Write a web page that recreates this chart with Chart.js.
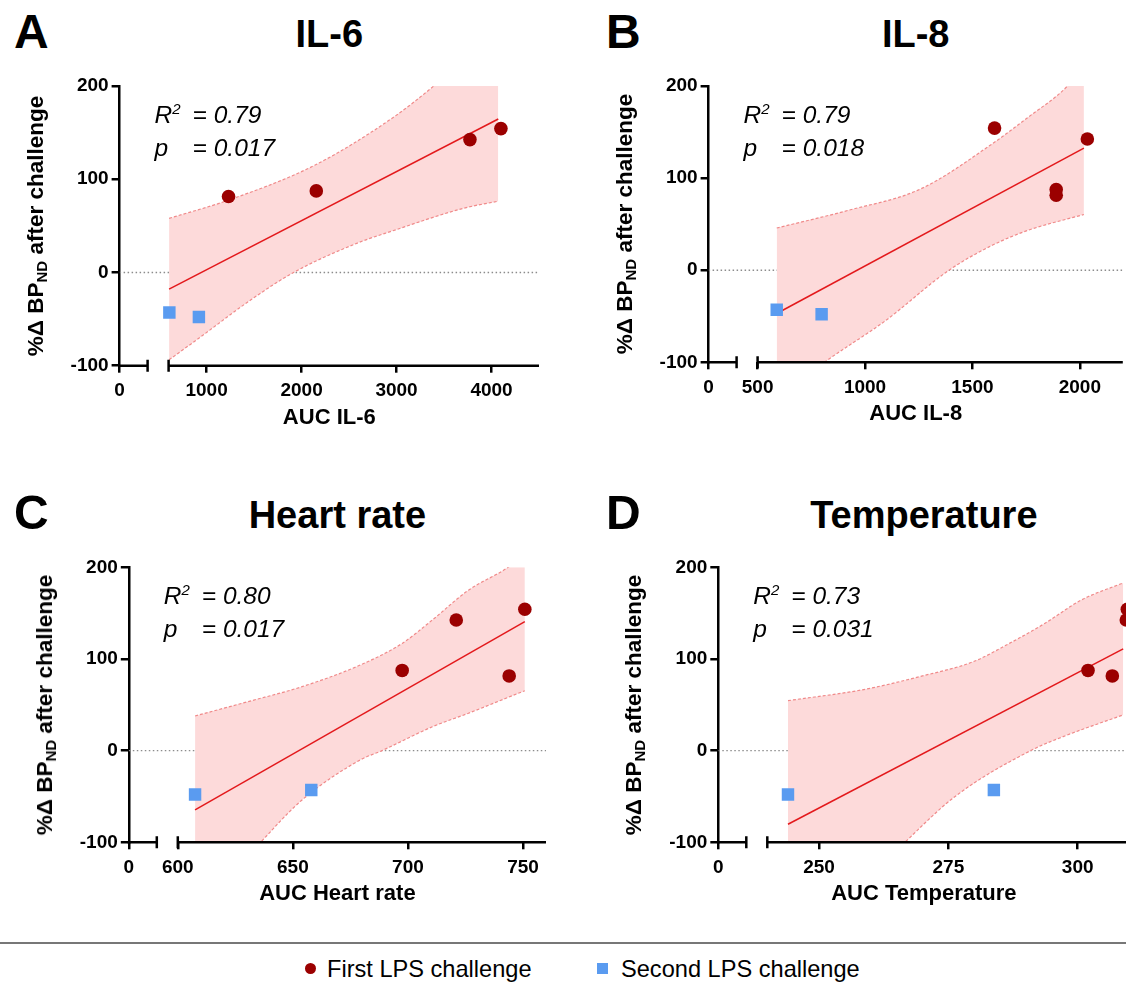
<!DOCTYPE html>
<html>
<head>
<meta charset="utf-8">
<script src="https://cdn.jsdelivr.net/npm/chart.js@4.4.1/dist/chart.umd.min.js"></script>
<style>
html,body{margin:0;padding:0;background:#fff;}
body{width:1126px;height:985px;overflow:hidden;position:relative;font-family:"Liberation Sans",Arial,sans-serif;color:#000;}
canvas{position:absolute;}
.letter{position:absolute;font-weight:bold;font-size:48px;line-height:1;}
.title{position:absolute;font-weight:bold;font-size:38px;line-height:1;transform:translateX(-50%);white-space:nowrap;}
.ytitle{position:absolute;font-weight:bold;font-size:22.5px;line-height:1;white-space:nowrap;transform:translate(-50%,-50%) rotate(-90deg);}
.ytitle sub{font-size:15px;vertical-align:-4px;}
.stats{position:absolute;font-style:italic;font-size:24.5px;line-height:33px;white-space:nowrap;}
.stats span{display:inline-block;width:38px;}
.stats sup{font-size:15px;vertical-align:9px;line-height:0;}
#rule{position:absolute;left:0;top:942px;width:1126px;height:2px;background:#777;}
.lg{position:absolute;font-size:23.6px;line-height:26px;top:956px;white-space:nowrap;}
.mk{position:absolute;width:11px;height:11px;top:963px;}
</style>
</head>
<body>

<canvas id="cA"></canvas>
<canvas id="cB"></canvas>
<canvas id="cC"></canvas>
<canvas id="cD"></canvas>

<div id="rule"></div>
<div class="mk" style="left:305px;border-radius:50%;background:#9b0000;"></div>
<div class="lg" style="left:327px;">First LPS challenge</div>
<div class="mk" style="left:597px;background:#5a9bf0;"></div>
<div class="lg" style="left:621px;">Second LPS challenge</div>

<script>
// y values (% change BPND), same subjects in every panel
const firstBP = [81.5, 87.5, 142.5, 154.3]
const secondBP = [-42.9, -47.8]

// IL-6
const il6First = [1231, 2155, 3773, 4099]
const il6Second = [608, 919]
const il6FitX = [605, 4071]
const il6FitY = [-17.8, 164.6]
const il6UpX = [605, 1243, 2138, 2961, 3393, 4071]
const il6UpY = [58, 78, 115, 166, 200, 260]
const il6LoX = [605, 943, 1467, 1916, 2587, 2961, 3711, 4071]
const il6LoY = [-93.7, -68.7, -29.3, 0, 31.5, 44.7, 69, 76.5]
const il6Ticks = [0, 1000, 2000, 3000, 4000]

// IL-8
const il8First = [1890, 1890, 2035, 1603]
const il8Second = [589, 798]
const il8FitX = [589, 2019]
const il8FitY = [-47, 132.5]
const il8UpX = [589, 922, 1257, 1591, 1759, 1943, 2019]
const il8UpY = [45.8, 65, 88, 137, 166, 200, 222]
const il8LoX = [589, 811, 1094, 1391, 1592, 1759, 2019]
const il8LoY = [-140, -100, -55, 0, 27, 43.3, 60.5]
const il8Ticks = [0, 500, 1000, 1500, 2000]

// Heart rate
const hrFirst = [744, 697.5, 721, 750.8]
const hrSecond = [658, 607.5]
const hrFitX = [607.5, 750.8]
const hrFitY = [-64.7, 140.7]
const hrUpX = [607.5, 630.6, 654, 679.4, 697.5, 710.6, 726.3, 743.5, 750.8]
const hrUpY = [37.8, 53.5, 69.8, 93.5, 117, 142.5, 175, 200, 215]
const hrLoX = [607.5, 636, 654, 679.4, 688.7, 710.6, 726.3, 750.8]
const hrLoY = [-180, -100, -53.8, -10, 0, 26, 40.8, 65.4]
const hrTicks = [0, 600, 650, 700, 750]

// Temperature
const tempFirst = [306.7, 302, 309.4, 309.6]
const tempSecond = [283.8, 244]
const tempFitX = [244, 308.8]
const tempFitY = [-80.3, 111]
const tempUpX = [244, 259, 269.4, 279.8, 286.8, 293.7, 300.7, 308.8]
const tempUpY = [54.5, 67, 80.7, 97, 117, 139, 164.3, 183]
const tempLoX = [244, 266.6, 276.3, 290.9, 297.2, 308.8]
const tempLoY = [-225, -100, -50, 0, 15.3, 39]
const tempTicks = [0, 250, 275, 300]

const panelLetters = ["A", "B", "C", "D"]
const panelTitles = ["IL-6", "IL-8", "Heart rate", "Temperature"]
const xTitles = ["AUC IL-6", "AUC IL-8", "AUC Heart rate", "AUC Temperature"]
const r2Values = ["0.79", "0.79", "0.80", "0.73"]
const pValues = ["0.017", "0.018", "0.017", "0.031"]

const FONT = "'Liberation Sans', Arial, sans-serif"
Chart.defaults.font.family = FONT

// x axis with a break: the 0 stub, a gap, then min..max
const breakGap = {}

class BrokenLinearScale extends Chart.LinearScale {
  getPixelForValue(value) {
    const b = breakGap[this.chart.canvas.id]
    if (value < this.min) return this.left + b.stubPx * Math.max(value, 0) / this.min
    const start = this.left + b.stubPx + b.gapPx
    return start + (value - this.min) / (this.max - this.min) * (this.right - start)
  }
  getValueForPixel(pixel) {
    const b = breakGap[this.chart.canvas.id]
    const start = this.left + b.stubPx + b.gapPx
    return this.min + (pixel - start) / (this.right - start) * (this.max - this.min)
  }
}
BrokenLinearScale.id = "brokenLinear"
Chart.register(BrokenLinearScale)

const brokenAxis = {
  id: "brokenAxis",
  afterDraw(chart) {
    const xs = chart.scales.x, ys = chart.scales.y
    const b = breakGap[chart.canvas.id]
    const ctx = chart.ctx
    const y0 = ys.getPixelForValue(ys.min)
    const p0 = xs.left
    const p1 = xs.left + b.stubPx
    const p2 = xs.getPixelForValue(xs.min)
    ctx.save()
    ctx.strokeStyle = "#000"
    ctx.lineWidth = 2.5
    ctx.beginPath()
    ctx.moveTo(p0 - 1.2, y0); ctx.lineTo(p1, y0)
    ctx.moveTo(p1, y0 - 6); ctx.lineTo(p1, y0 + 6)
    ctx.moveTo(p2, y0 - 6); ctx.lineTo(p2, y0 + 6)
    ctx.moveTo(p2, y0); ctx.lineTo(xs.right, y0)
    ctx.stroke()
    ctx.restore()
  }
}

function pts(xs, ys) {
  return xs.map((x, i) => ({x: x, y: ys[i]}))
}

function makePanel(p) {
  const cv = document.getElementById(p.id)
  const a = p.area
  const x0 = Math.floor(a.left) - 110, y0 = Math.floor(a.top) - 20
  const w = Math.ceil(a.right) - x0 + 25, h = Math.ceil(a.bottom) - y0 + 90
  cv.width = w; cv.height = h
  cv.style.left = x0 + "px"; cv.style.top = y0 + "px"
  cv.style.width = w + "px"; cv.style.height = h + "px"
  breakGap[p.id] = {stubPx: 28, gapPx: 21}

  const tickFont = {family: FONT, size: 19, weight: "bold"}

  new Chart(cv, {
    type: "scatter",
    data: {
      datasets: [
        {data: pts(p.first, firstBP), pointStyle: "circle", pointRadius: 6.8,
         backgroundColor: "#9b0000", borderWidth: 0},
        {data: pts(p.second, secondBP), pointStyle: "rect", pointRadius: 8.8,
         backgroundColor: "#5a9bf0", borderWidth: 0},
        {type: "line", data: pts(p.fitX, p.fitY), borderColor: "#e3191c",
         borderWidth: 1.5, pointRadius: 0, fill: false, clip: 0},
        {type: "line", data: pts(p.loX, p.loY), borderColor: "#f08a8a",
         borderWidth: 1.2, borderDash: [3, 2], pointRadius: 0, fill: false,
         cubicInterpolationMode: "monotone", clip: 0},
        {type: "line", data: pts(p.upX, p.upY), borderColor: "#f08a8a",
         borderWidth: 1.2, borderDash: [3, 2], pointRadius: 0,
         cubicInterpolationMode: "monotone", clip: 0,
         fill: "-1", backgroundColor: "rgb(253,218,218)"},
        {type: "line", data: [{x: 0, y: 0}, {x: p.max, y: 0}], borderColor: "#8c8c8c",
         borderWidth: 1.4, borderDash: [1.5, 2.5], pointRadius: 0, fill: false, clip: 0}
      ]
    },
    options: {
      responsive: false,
      animation: false,
      devicePixelRatio: 1,
      events: [],
      layout: {padding: {left: a.left - x0 - 60, top: a.top - y0,
                         right: x0 + w - a.right, bottom: y0 + h - a.bottom - 70}},
      plugins: {legend: {display: false}, tooltip: {enabled: false}},
      scales: {
        x: {
          type: "brokenLinear", min: p.min, max: p.max, bounds: "data",
          afterBuildTicks: s => { s.ticks = p.ticks.map(v => ({value: v})) },
          afterFit: s => { s.height = 70 },
          border: {display: false},
          grid: {drawOnChartArea: false, drawTicks: true, tickLength: 7, color: "#000", lineWidth: 2.5},
          ticks: {autoSkip: false, maxRotation: 0, padding: 7, color: "#000", font: tickFont,
                  callback: v => String(v)},
          title: {display: true, text: p.xTitle, color: "#000",
                  font: {family: FONT, size: 22, weight: "bold"}, padding: {top: 0, bottom: 5}}
        },
        y: {
          min: -100, max: 200,
          afterFit: s => { s.width = 60 },
          border: {display: true, color: "#000", width: 2.5},
          grid: {drawOnChartArea: false, drawTicks: true, tickLength: 8, color: "#000", lineWidth: 2.5},
          ticks: {stepSize: 100, padding: 3, color: "#000", font: tickFont, callback: v => String(v)}
        }
      }
    },
    plugins: [brokenAxis]
  })

  // text around the plot
  const add = (cls, html, css) => {
    const d = document.createElement("div")
    d.className = cls
    d.innerHTML = html
    Object.assign(d.style, css)
    document.body.appendChild(d)
  }
  add("letter", p.letter, {left: p.letterX + "px", top: (a.top - 78) + "px"})
  add("title", p.title, {left: ((a.left + a.right) / 2) + "px", top: (a.top - 71) + "px"})
  add("ytitle", "%\u0394 BP<sub>ND</sub> after challenge",
      {left: (a.left - 83) + "px", top: ((a.top + a.bottom) / 2) + "px"})
  add("stats", "<span>R<sup>2</sup></span>= " + p.r2 + "<br><span>p</span>= " + p.pv,
      {left: (a.left + 35) + "px", top: (a.top + 11.5) + "px"})
}

const panels = [
  {id: "cA", area: {left: 119.6, top: 86, right: 539, bottom: 365.7}, min: 600, max: 4500,
   first: il6First, second: il6Second, fitX: il6FitX, fitY: il6FitY,
   upX: il6UpX, upY: il6UpY, loX: il6LoX, loY: il6LoY, ticks: il6Ticks},
  {id: "cB", area: {left: 708.6, top: 86, right: 1122.8, bottom: 362.3}, min: 500, max: 2200,
   first: il8First, second: il8Second, fitX: il8FitX, fitY: il8FitY,
   upX: il8UpX, upY: il8UpY, loX: il8LoX, loY: il8LoY, ticks: il8Ticks},
  {id: "cC", area: {left: 128.8, top: 567.3, right: 546, bottom: 842.3}, min: 600, max: 760,
   first: hrFirst, second: hrSecond, fitX: hrFitX, fitY: hrFitY,
   upX: hrUpX, upY: hrUpY, loX: hrLoX, loY: hrLoY, ticks: hrTicks},
  {id: "cD", area: {left: 718.3, top: 567.3, right: 1129.4, bottom: 842.3}, min: 240, max: 310,
   first: tempFirst, second: tempSecond, fitX: tempFitX, fitY: tempFitY,
   upX: tempUpX, upY: tempUpY, loX: tempLoX, loY: tempLoY, ticks: tempTicks}
]
const letterX = [14, 606, 14, 606]

panels.forEach((p, i) => {
  p.letter = panelLetters[i]
  p.letterX = letterX[i]
  p.title = panelTitles[i]
  p.xTitle = xTitles[i]
  p.r2 = r2Values[i]
  p.pv = pValues[i]
  makePanel(p)
})
</script>
</body>
</html>
